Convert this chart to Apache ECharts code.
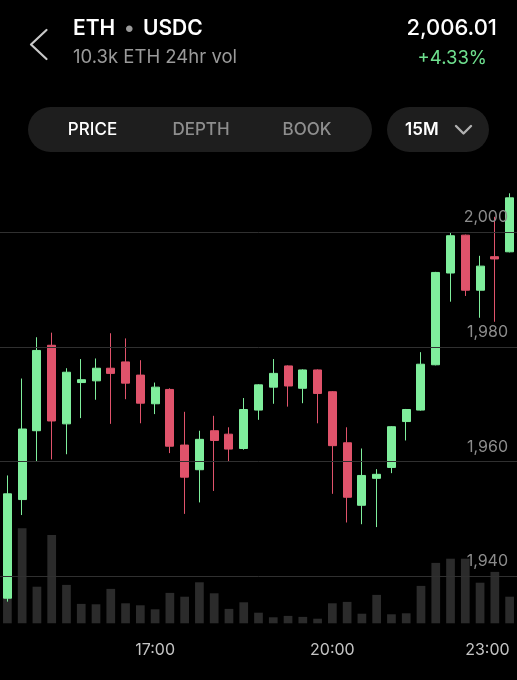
<!DOCTYPE html>
<html>
<head>
<meta charset="utf-8">
<script src="https://cdn.jsdelivr.net/npm/echarts@6/dist/echarts.min.js"></script>
<style>
html,body{margin:0;padding:0;background:#000;}
#c{width:517px;height:680px;}
</style>
</head>
<body>
<div id="c"></div>
<script>
// ---- data ----
const times = ['14:30','14:45','15:00','15:15','15:30','15:45','16:00','16:15','16:30','16:45',
  '17:00','17:15','17:30','17:45','18:00','18:15','18:30','18:45','19:00','19:15','19:30','19:45',
  '20:00','20:15','20:30','20:45','21:00','21:15','21:30','21:45','22:00','22:15','22:30','22:45','23:00'];
const opens  = [1936.2,1953.4,1965.4,1980.3,1966.6,1973.8,1974.1,1976.3,1977.4,1975.1,1970.1,1972.6,1962.9,1958.6,1965.4,1964.8,1962.3,1969.0,1973.0,1976.7,1972.8,1976.0,1972.2,1963.3,1952.4,1957.1,1959.0,1967.0,1969.0,1976.9,1992.9,1999.5,1989.9,1995.75,1996.6];
const closes = [1954.4,1965.7,1979.4,1967.1,1975.6,1974.3,1976.3,1975.4,1973.7,1970.2,1973.0,1962.7,1957.3,1963.9,1963.7,1962.2,1969.1,1973.4,1975.4,1973.2,1976.0,1971.9,1962.8,1953.8,1957.6,1957.8,1966.1,1969.1,1977.0,1993.0,1999.4,1989.9,1994.1,1995.35,2006.01];
const lows   = [1935.6,1950.7,1960.0,1960.4,1961.3,1967.6,1970.8,1966.6,1970.9,1966.7,1968.3,1961.5,1950.9,1952.9,1954.9,1960.0,1962.1,1967.3,1970.1,1969.6,1970.2,1966.7,1954.4,1949.4,1949.1,1948.6,1958.0,1963.7,1968.9,1976.8,1987.9,1988.9,1985.1,1984.4,1996.5];
const highs  = [1957.6,1974.5,1981.7,1982.5,1976.3,1977.9,1978.0,1982.4,1981.5,1977.7,1973.8,1972.8,1968.7,1965.4,1968.0,1966.0,1971.1,1973.5,1977.9,1976.8,1976.1,1976.1,1972.3,1966.0,1962.3,1958.7,1966.2,1969.2,1979.1,1993.1,2000.0,1999.6,1995.9,2002.7,2006.8];
const volumes = [390,475,183,442,192,97,95,172,100,90,70,152,133,205,150,72,105,53,30,37,32,23,100,107,48,142,45,50,187,302,323,323,203,257,133];
const priceTicks = [1940,1960,1980,2000];
const timeLabels = ['17:00','20:00','23:00'];

const GREEN = '#7FEE9C', RED = '#E0536B';
const font = 'Inter, "Noto Sans", sans-serif';

const candles = times.map((t,i)=>[opens[i],closes[i],lows[i],highs[i]]);

const chart = echarts.init(document.getElementById('c'), null, {renderer:'canvas'});
chart.setOption({
  backgroundColor:'#000',
  animation:false,
  grid:[
    {left:0,right:0,top:174.95,bottom:46.25},
    {left:0,right:0,top:523.3,bottom:56.7}
  ],
  xAxis:[
    {type:'category',gridIndex:0,data:times,show:false,boundaryGap:true},
    {type:'category',gridIndex:1,data:times,boundaryGap:true,
     axisLine:{show:false},axisTick:{show:false},splitLine:{show:false},
     axisLabel:{
       interval:(idx,val)=>timeLabels.indexOf(val)>=0,
       color:'#c4c4c4',fontSize:16,fontFamily:font,margin:19,
       alignMaxLabel:'right',hideOverlap:false,showMaxLabel:true
     }}
  ],
  yAxis:[
    {type:'value',gridIndex:0,min:1930,max:2010,show:false,splitLine:{show:false},scale:true},
    {type:'value',gridIndex:1,min:0,max:500,show:false,splitLine:{show:false}}
  ],
  series:[
    {type:'bar',xAxisIndex:1,yAxisIndex:1,data:volumes,barWidth:8.7,
     itemStyle:{color:'#2b2b2b'},silent:true},
    {type:'candlestick',xAxisIndex:0,yAxisIndex:0,data:candles,barWidth:8.5,
     itemStyle:{color:GREEN,color0:RED,borderColor:GREEN,borderColor0:RED,borderWidth:1},
     markLine:{
       silent:true,symbol:['none','none'],
       lineStyle:{color:'#303030',width:1,type:'solid'},
       label:{position:'insideEndTop',color:'#8c8c8c',fontSize:16,fontFamily:font,
              distance:[9,7],
              formatter:(p)=>p.value.toLocaleString('en-US')},
       data:priceTicks.map(v=>({yAxis:v}))
     }}
  ],
  graphic:[
    {type:'polyline',shape:{points:[[46.5,30],[31,44.5],[46.5,59]]},
     style:{stroke:'#c8c8c8',lineWidth:2.2,fill:null,lineCap:'round',lineJoin:'round'}},
    {type:'text',left:73,top:18,style:{text:'ETH',fill:'#fff',font:'600 21px '+font}},
    {type:'text',left:124,top:18,style:{text:'•',fill:'#9a9a9a',font:'600 21px '+font}},
    {type:'text',left:143,top:18,style:{text:'USDC',fill:'#fff',font:'600 21px '+font}},
    {type:'text',left:73,top:48,style:{text:'10.3k ETH 24hr vol',fill:'#9a9a9a',font:'400 18.5px '+font}},
    {type:'text',right:20,top:17,style:{text:'2,006.01',fill:'#fff',font:'500 22px '+font,textAlign:'right'}},
    {type:'text',right:30,top:49,style:{text:'+4.33%',fill:'#6fe08f',font:'400 18.5px '+font,textAlign:'right'}},
    {type:'rect',shape:{x:28,y:107,width:344,height:45,r:22.5},style:{fill:'#1e1e1e'}},
    {type:'text',x:92.5,y:129.5,style:{text:'PRICE',fill:'#fff',font:'500 17px '+font,textAlign:'center',textVerticalAlign:'middle'}},
    {type:'text',x:201,y:129.5,style:{text:'DEPTH',fill:'#8e8e8e',font:'500 17px '+font,textAlign:'center',textVerticalAlign:'middle'}},
    {type:'text',x:307,y:129.5,style:{text:'BOOK',fill:'#8e8e8e',font:'500 17px '+font,textAlign:'center',textVerticalAlign:'middle'}},
    {type:'rect',shape:{x:387,y:107,width:102,height:45,r:22.5},style:{fill:'#1e1e1e'}},
    {type:'text',x:405,y:129.5,style:{text:'15M',fill:'#fff',font:'600 17px '+font,textAlign:'left',textVerticalAlign:'middle'}},
    {type:'polyline',shape:{points:[[456,126],[463.5,133.5],[471,126]]},
     style:{stroke:'#b0b0b0',lineWidth:2.4,fill:null,lineCap:'round',lineJoin:'round'}}
  ]
});
</script>
</body>
</html>
